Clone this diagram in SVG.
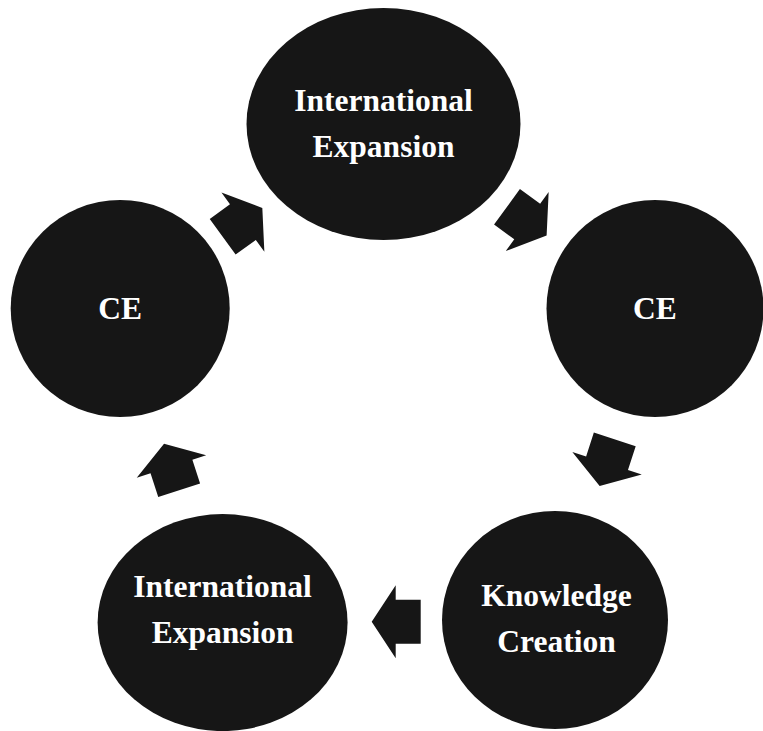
<svg xmlns="http://www.w3.org/2000/svg" width="763" height="731" viewBox="0 0 763 731">
<defs>
<style>
.node{fill:#161616}
.lbl{fill:#ffffff;font-family:"Liberation Serif","Times New Roman",serif;font-weight:bold;font-size:31.5px;text-anchor:middle}
.arr{fill:#161616}
</style>
<polygon id="arrowShape" points="-24.5,-22 0.5,-22 0.5,-36.5 24.5,0 0.5,36.5 0.5,22 -24.5,22"/>
</defs>
<rect width="763" height="731" fill="#ffffff"/>
<g id="connectors">
<use href="#arrowShape" class="arr" transform="translate(242.5,222.4) rotate(-36)"/>
<use href="#arrowShape" class="arr" transform="translate(526.8,221.2) rotate(36)"/>
<use href="#arrowShape" class="arr" transform="translate(607.2,462.7) rotate(108)"/>
<use href="#arrowShape" class="arr" transform="translate(396.2,621.7) rotate(180)"/>
<use href="#arrowShape" class="arr" transform="translate(171.6,467) rotate(-108)"/>
</g>
<g id="node-top">
<ellipse class="node" cx="383.5" cy="124" rx="137" ry="116"/>
<text class="lbl" x="383.5" y="111">International</text>
<text class="lbl" x="383.5" y="157">Expansion</text>
</g>
<g id="node-right">
<ellipse class="node" cx="655" cy="308.5" rx="108.5" ry="108.5"/>
<text class="lbl" x="655" y="319">CE</text>
</g>
<g id="node-bottom-right">
<ellipse class="node" cx="555" cy="620" rx="113" ry="109"/>
<text class="lbl" x="556.5" y="606">Knowledge</text>
<text class="lbl" x="556.5" y="652">Creation</text>
</g>
<g id="node-bottom-left">
<ellipse class="node" cx="222.6" cy="622.6" rx="125" ry="108.5"/>
<text class="lbl" x="222.6" y="597">International</text>
<text class="lbl" x="222.6" y="643">Expansion</text>
</g>
<g id="node-left">
<ellipse class="node" cx="120.2" cy="308.5" rx="109.5" ry="108.5"/>
<text class="lbl" x="120.2" y="319">CE</text>
</g>
</svg>
